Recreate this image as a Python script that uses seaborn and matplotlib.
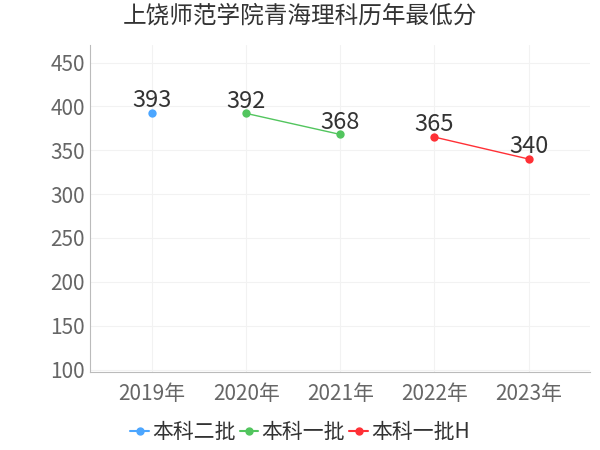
import pandas as pd
import matplotlib.pyplot as plt
import seaborn as sns

# Datos
years = ['2019年', '2020年', '2021年', '2022年', '2023年']
batch_names = ['本科二批', '本科一批', '本科一批H']
erpi_years = ['2019年']
erpi_scores = [393]
yipi_years = ['2020年', '2021年']
yipi_scores = [392, 368]
yipih_years = ['2022年', '2023年']
yipih_scores = [365, 340]
colors = ['#4ca6ff', '#52c55e', '#ff3036']

df = pd.concat([
    pd.DataFrame({'年份': erpi_years, '分数': erpi_scores, '批次': batch_names[0]}),
    pd.DataFrame({'年份': yipi_years, '分数': yipi_scores, '批次': batch_names[1]}),
    pd.DataFrame({'年份': yipih_years, '分数': yipih_scores, '批次': batch_names[2]}),
], ignore_index=True)

sns.set_style('white')
plt.rcParams['font.family'] = ['Noto Sans CJK SC', 'DejaVu Sans']

fig = plt.figure(figsize=(6, 4.5), dpi=100)
ax = fig.add_axes([0.15, 0.173, 0.833, 0.727])

sns.lineplot(data=df, x='年份', y='分数', hue='批次', hue_order=batch_names,
             palette=colors, marker='o', markersize=6, markeredgewidth=0,
             linewidth=1, ax=ax, legend=False, sort=False)

# Etiquetas de valores
pos = {y: i for i, y in enumerate(years)}
for _, r in df.iterrows():
    ax.text(pos[r['年份']], r['分数'] + 1, str(r['分数']), ha='center', va='bottom',
            fontsize=17, color='#333333')

ax.set_xlim(-0.66, 4.65)
ax.set_ylim(97, 470)
ax.set_yticks([100, 150, 200, 250, 300, 350, 400, 450])
ax.set_xticks(range(len(years)))
ax.set_xticklabels(years)
ax.set_xlabel('')
ax.set_ylabel('')
ax.grid(True, color='#f2f2f2', linewidth=0.8)
ax.tick_params(axis='both', labelsize=15, colors='#666666', length=0)
ax.tick_params(axis='x', length=4, color='#cccccc')
for s in ['top', 'right']:
    ax.spines[s].set_visible(False)
ax.spines['left'].set_color('#bbbbbb')
ax.spines['bottom'].set_color('#bbbbbb')

fig.suptitle('上饶师范学院青海理科历年最低分', x=0.5, y=0.99, fontsize=17, color='#333333')

handles = [plt.Line2D([], [], color=c, marker='o', markersize=5, linewidth=1.5) for c in colors]
fig.legend(handles, batch_names, loc='center', bbox_to_anchor=(0.5, 0.04), ncol=3,
           frameon=False, fontsize=15, handlelength=0.9, handletextpad=0.15,
           columnspacing=0.2, labelcolor='#333333')

plt.savefig('out.png', dpi=100)
plt.close()
